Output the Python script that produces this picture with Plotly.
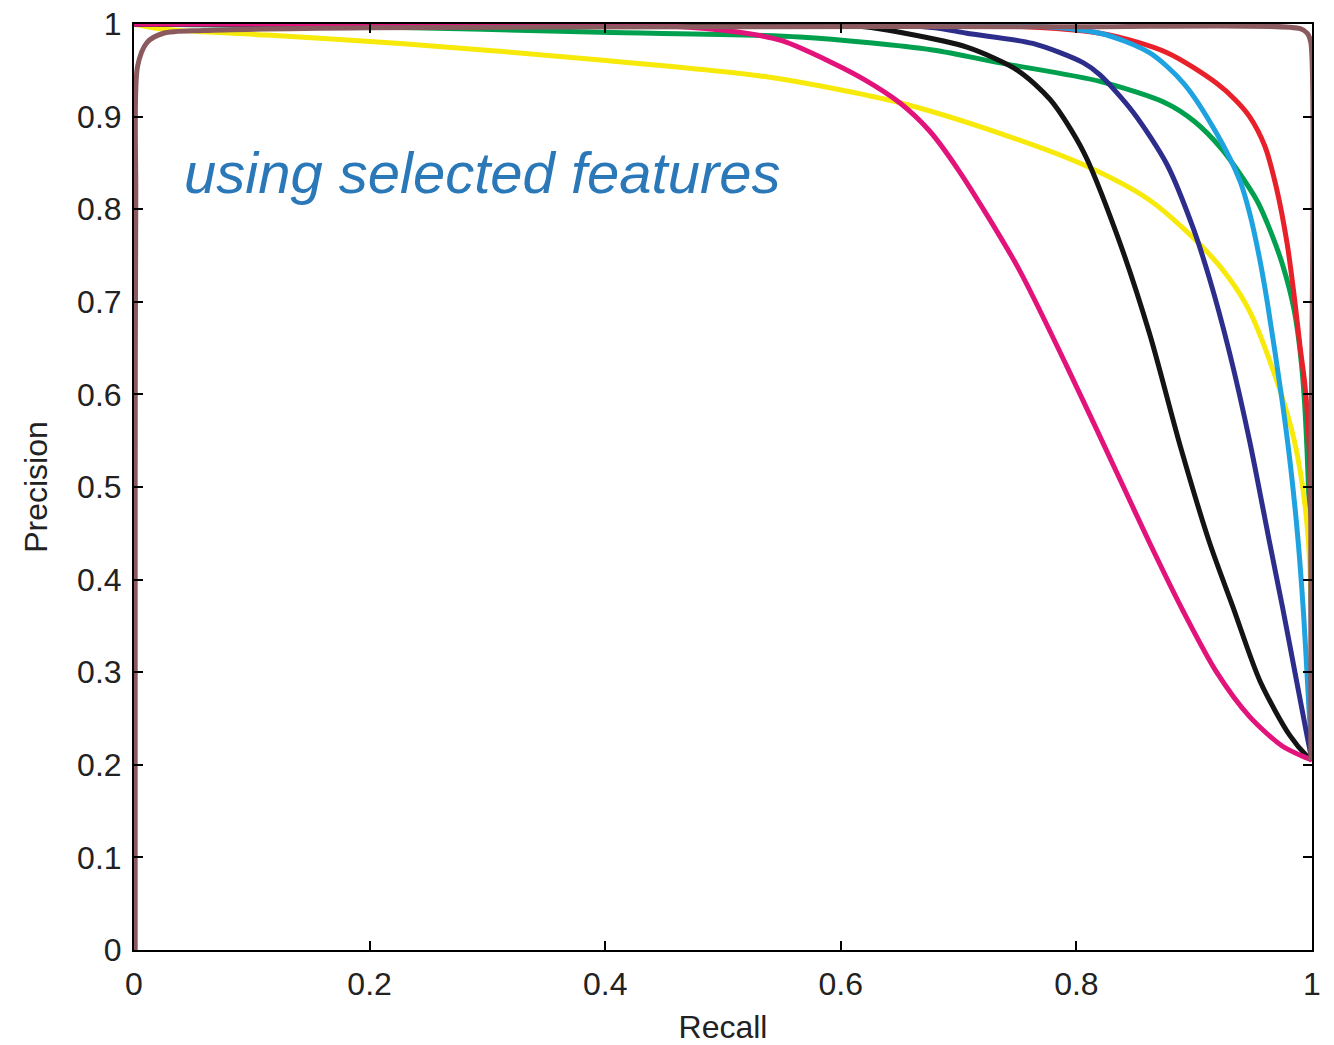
import plotly.graph_objects as go

# ---- data (Recall, Precision) ----
magenta_x = [0, 0.3, 0.45, 0.514, 0.55, 0.593, 0.62, 0.65, 0.675, 0.7, 0.75, 0.792, 0.84, 0.862, 0.891, 0.919, 0.947, 0.975, 0.996, 1.0]
magenta_y = [1.0, 1.0, 0.998, 0.991, 0.982, 0.958, 0.94, 0.915, 0.885, 0.842, 0.738, 0.63, 0.50, 0.44, 0.365, 0.30, 0.252, 0.22, 0.207, 0.205]

black_x = [0, 0.55, 0.62, 0.65, 0.707, 0.75, 0.778, 0.806, 0.834, 0.862, 0.888, 0.913, 0.933, 0.956, 0.981, 0.996, 1.0]
black_y = [1.0, 1.0, 0.997, 0.991, 0.975, 0.95, 0.918, 0.862, 0.774, 0.666, 0.545, 0.44, 0.37, 0.29, 0.232, 0.209, 0.205]

navy_x = [0, 0.6, 0.68, 0.707, 0.763, 0.806, 0.82, 0.848, 0.877, 0.899, 0.913, 0.93, 0.947, 0.964, 0.975, 0.987, 0.996, 1.0]
navy_y = [1.0, 1.0, 0.996, 0.99, 0.979, 0.958, 0.945, 0.905, 0.848, 0.78, 0.725, 0.645, 0.55, 0.44, 0.37, 0.29, 0.23, 0.205]

green_x = [0, 0.2, 0.396, 0.565, 0.678, 0.735, 0.82, 0.877, 0.9, 0.924, 0.953, 0.962, 0.975, 0.985, 0.992, 0.997, 1.0, 1.0]
green_y = [1.0, 0.997, 0.991, 0.986, 0.972, 0.958, 0.938, 0.914, 0.895, 0.864, 0.81, 0.785, 0.74, 0.69, 0.62, 0.50, 0.30, 0.205]

cyan_x = [0, 0.75, 0.82, 0.862, 0.891, 0.919, 0.939, 0.947, 0.955, 0.962, 0.975, 0.982, 0.988, 0.993, 0.997, 1.0]
cyan_y = [1.0, 0.999, 0.99, 0.969, 0.936, 0.882, 0.83, 0.796, 0.75, 0.70, 0.59, 0.52, 0.445, 0.36, 0.27, 0.205]

red_x = [0, 0.7, 0.82, 0.877, 0.919, 0.935, 0.947, 0.96, 0.97, 0.979, 0.985, 0.99, 0.994, 0.997, 0.999, 1.0, 1.0]
red_y = [1.0, 1.0, 0.99, 0.969, 0.936, 0.918, 0.90, 0.868, 0.822, 0.762, 0.705, 0.65, 0.61, 0.56, 0.49, 0.42, 0.205]

yellow_x = [0, 0.02, 0.113, 0.226, 0.396, 0.537, 0.65, 0.735, 0.806, 0.862, 0.905, 0.93, 0.947, 0.970, 0.985, 0.995, 1.0, 1.0]
yellow_y = [1.0, 0.995, 0.988, 0.979, 0.961, 0.943, 0.915, 0.882, 0.848, 0.81, 0.762, 0.725, 0.69, 0.615, 0.55, 0.47, 0.35, 0.205]

brown_x = [0.001, 0.001, 0.0015, 0.003, 0.011, 0.025, 0.059, 0.2, 0.5, 0.8, 0.99, 0.996, 0.999, 0.999, 0.999]
brown_y = [0.0, 0.5, 0.81, 0.954, 0.98, 0.99, 0.993, 0.996, 0.997, 0.997, 0.995, 0.99, 0.98, 0.5, 0.205]

x_ticks = [0, 0.2, 0.4, 0.6, 0.8, 1]
x_ticklabels = ["0", "0.2", "0.4", "0.6", "0.8", "1"]
y_ticks = [0, 0.1, 0.2, 0.3, 0.4, 0.5, 0.6, 0.7, 0.8, 0.9, 1]
y_ticklabels = ["0", "0.1", "0.2", "0.3", "0.4", "0.5", "0.6", "0.7", "0.8", "0.9", "1"]

series = [
    ("green", green_x, green_y, "#00A04E"),
    ("yellow", yellow_x, yellow_y, "#F7EA0A"),
    ("red", red_x, red_y, "#E8202A"),
    ("cyan", cyan_x, cyan_y, "#1FA3E0"),
    ("navy", navy_x, navy_y, "#2D2E8C"),
    ("black", black_x, black_y, "#141414"),
    ("magenta", magenta_x, magenta_y, "#E2137A"),
    ("brown", brown_x, brown_y, "#8A5A5E"),
]

fig = go.Figure()
for name, xs, ys, col in series:
    fig.add_trace(go.Scatter(
        x=xs, y=ys, mode="lines", name=name,
        line=dict(color=col, width=5, shape="spline", smoothing=0.8),
        cliponaxis=False, showlegend=False, hoverinfo="skip",
    ))

fig.add_annotation(
    x=0.295, y=0.84, xref="x", yref="y",
    text="<i>using selected features</i>", showarrow=False,
    font=dict(family="Liberation Sans, Arial", size=58, color="#2A78B8"),
)

tick_font = dict(family="Liberation Sans, Arial", size=32, color="#222222")
fig.update_xaxes(
    range=[0, 1], tickvals=x_ticks, ticktext=x_ticklabels,
    showline=True, linecolor="black", linewidth=2, mirror="ticks",
    ticks="inside", ticklen=9, tickwidth=2, tickcolor="black",
    showgrid=False, zeroline=False, tickfont=tick_font,
    ticklabelstandoff=5, automargin=False, ticklabeloverflow="allow",
    title=dict(text="Recall", font=tick_font, standoff=23),
)
fig.update_yaxes(
    range=[0, 1], tickvals=y_ticks, ticktext=y_ticklabels,
    showline=True, linecolor="black", linewidth=2, mirror="ticks",
    ticks="inside", ticklen=9, tickwidth=2, tickcolor="black",
    showgrid=False, zeroline=False, tickfont=tick_font,
    ticklabelstandoff=4, automargin=False, ticklabeloverflow="allow",
    title=dict(text="Precision", font=tick_font, standoff=20),
)
fig.update_layout(
    width=1334, height=1045,
    margin=dict(l=134, r=22, t=24, b=95),
    paper_bgcolor="white", plot_bgcolor="white",
    hovermode=False,
)
fig.write_html("out.html", config={"displayModeBar": False},
               post_script="document.body.style.margin='0';")
